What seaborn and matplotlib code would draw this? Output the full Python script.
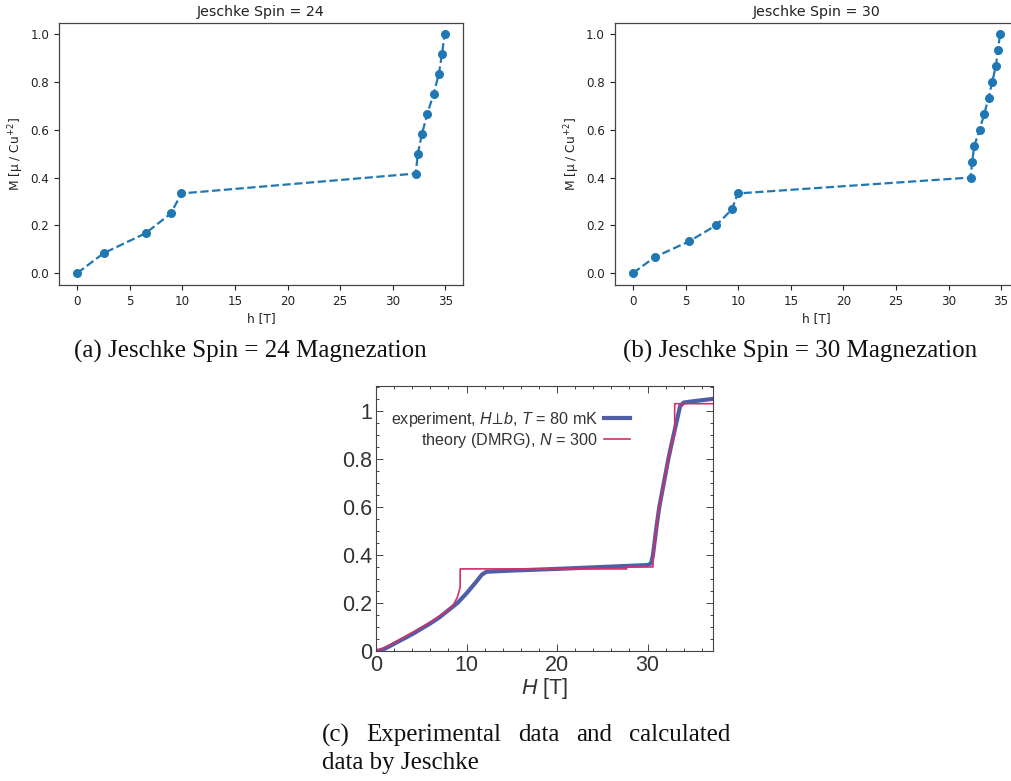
import matplotlib
matplotlib.use("Agg")
import matplotlib.pyplot as plt
import seaborn as sns
import numpy as np
import pandas as pd
from matplotlib.ticker import MultipleLocator, FixedLocator, FixedFormatter
from matplotlib.font_manager import FontProperties

# --- magnetization curves, 24-spin cluster ---
h_24 = [0.0, 2.5, 6.5, 8.9, 9.9, 32.2, 32.4, 32.8, 33.3, 33.9, 34.4, 34.7, 34.95]
m_24 = [0.0, 1/12, 2/12, 3/12, 4/12, 5/12, 6/12, 7/12, 8/12, 9/12, 10/12, 11/12, 1.0]

# --- magnetization curves, 30-spin cluster ---
h_30 = [0.0, 2.05, 5.35, 7.9, 9.4, 9.95, 32.1, 32.25, 32.45, 32.95, 33.4, 33.8,
        34.15, 34.5, 34.7, 34.9]
m_30 = [0.0, 1/15, 2/15, 3/15, 4/15, 5/15, 6/15, 7/15, 8/15, 9/15, 10/15, 11/15,
        12/15, 13/15, 14/15, 1.0]

# --- experiment vs DMRG ---
exp_H = [0.0, 0.5, 1.0, 2.0, 4.0, 6.0, 7.0, 8.0, 9.0, 10.0, 11.0, 11.7, 12.2, 15.0,
         20.0, 25.0, 30.0, 30.4, 30.6, 30.8, 31.0, 31.3, 31.8, 32.3, 32.7, 33.0,
         33.3, 33.6, 34.0, 35.0, 37.2]
exp_M = [0.0, 0.003, 0.01, 0.03, 0.07, 0.115, 0.14, 0.17, 0.2, 0.24, 0.285, 0.318,
         0.33, 0.335, 0.342, 0.35, 0.358, 0.365, 0.40, 0.46, 0.52, 0.6, 0.7, 0.8,
         0.87, 0.92, 0.97, 1.02, 1.035, 1.04, 1.05]

dmrg_H = [0.0, 1.0, 2.0, 3.0, 4.0, 5.0, 6.0, 7.0, 8.0, 8.5, 8.8, 9.0, 9.15, 9.3,
          9.3, 20.0, 27.7, 27.7, 30.6, 30.6, 30.8, 31.0, 31.3, 31.8, 32.3, 32.7,
          33.0, 33.0, 37.2]
dmrg_M = [0.0, 0.015, 0.035, 0.055, 0.077, 0.098, 0.12, 0.145, 0.172, 0.19, 0.21,
          0.225, 0.245, 0.266, 0.342, 0.342, 0.342, 0.35, 0.35, 0.37, 0.45, 0.52,
          0.6, 0.7, 0.8, 0.87, 0.9, 1.03, 1.03]

W, H = 1011, 781
fig = plt.figure(figsize=(W / 100, H / 100), dpi=100)
fig.patch.set_facecolor("white")


def px_axes(left, top, right, bottom):
    return fig.add_axes([left / W, 1 - bottom / H, (right - left) / W, (bottom - top) / H])


def spin_panel(ax, h, m, title):
    df = pd.DataFrame({"h": h, "M": m})
    sns.lineplot(data=df, x="h", y="M", ax=ax, color="#1f77b4", marker="o",
                 markersize=6.5, markeredgewidth=0, linestyle="--", linewidth=1.6,
                 sort=False, estimator=None)
    ax.set_xticks(np.arange(0, 36, 5))
    ax.set_yticks(np.arange(0, 1.01, 0.2))
    ax.yaxis.set_major_formatter(matplotlib.ticker.FormatStrFormatter("%.1f"))
    ax.set_xlim(-1.75, 36.7)
    ax.set_ylim(-0.05, 1.047)
    ax.set_title(title, fontsize=10.2, color="#222222", pad=5)
    ax.set_xlabel("h [T]", fontsize=8.8, color="#222222", labelpad=3)
    ax.set_ylabel("M [μ / Cu$^{+2}$]", fontsize=8.8, color="#222222", labelpad=3,
                  math_fontfamily="dejavusans")
    ax.tick_params(labelsize=8.6, colors="#222222", length=3.5, width=0.8)
    for s in ax.spines.values():
        s.set_color("#444444")
        s.set_linewidth(0.9)


ax_a = px_axes(59, 23, 463, 285)
spin_panel(ax_a, h_24, m_24, "Jeschke Spin = 24")

ax_b = px_axes(614.7, 23, 1019, 285)
spin_panel(ax_b, h_30, m_30, "Jeschke Spin = 30")

# --- experiment / theory comparison panel ---
plt.rcParams["mathtext.fontset"] = "custom"
plt.rcParams["mathtext.it"] = "Liberation Sans:italic"
plt.rcParams["mathtext.rm"] = "Liberation Sans"
plt.rcParams["mathtext.sf"] = "Liberation Sans"
ax_c = px_axes(376, 385.7, 712.7, 651)
sans = ["Liberation Sans", "DejaVu Sans"]

df_exp = pd.DataFrame({"H": exp_H, "M": exp_M})
df_th = pd.DataFrame({"H": dmrg_H, "M": dmrg_M})
sns.lineplot(data=df_exp, x="H", y="M", ax=ax_c, color="#3c4c9e", linewidth=3.0,
             alpha=0.9, sort=False, estimator=None,
             label=r"experiment, $H\!\perp\! b$, $T$ = 80 mK")
sns.lineplot(data=df_th, x="H", y="M", ax=ax_c, color="#d0306a", linewidth=1.2,
             sort=False, estimator=None, label="theory (DMRG), $N$ = 300")
ax_c.set_xlim(0, 37.2)
ax_c.set_ylim(0, 1.105)
ax_c.xaxis.set_major_locator(FixedLocator([0, 10, 20, 30]))
ax_c.xaxis.set_minor_locator(MultipleLocator(2))
ax_c.yaxis.set_major_locator(FixedLocator([0, 0.2, 0.4, 0.6, 0.8, 1.0]))
ax_c.yaxis.set_major_formatter(FixedFormatter(["0", "0.2", "0.4", "0.6", "0.8", "1"]))
ax_c.yaxis.set_minor_locator(MultipleLocator(0.05))
ax_c.tick_params(which="both", direction="in", top=True, right=True,
                 colors="#444444", width=0.7)
ax_c.tick_params(which="major", length=5, labelsize=15.5, labelcolor="#333333", pad=3)
ax_c.tick_params(which="minor", length=2.5)
for lab in ax_c.get_xticklabels() + ax_c.get_yticklabels():
    lab.set_family(sans)
ax_c.set_xlabel("$H$ [T]", fontsize=15.5, color="#333333", family=sans, labelpad=0)
ax_c.set_ylabel("")
for s in ax_c.spines.values():
    s.set_color("#444444")
    s.set_linewidth(0.8)
leg = ax_c.legend(loc="upper left", bbox_to_anchor=(0.015, 0.945), frameon=False,
                  markerfirst=False, handlelength=1.6, handletextpad=0.4,
                  labelspacing=0.12, borderaxespad=0.2,
                  prop=FontProperties(family=sans, size=11.6))
for t in leg.get_texts():
    t.set_color("#333333")

# --- captions ---
serif = ["Liberation Serif", "DejaVu Serif"]
cap_size = 18
fig.text(250 / W, 1 - 351 / H, "(a) Jeschke Spin = 24 Magnezation", ha="center",
         va="center", fontsize=cap_size, family=serif, color="#111111")
fig.text(800 / W, 1 - 351 / H, "(b) Jeschke Spin = 30 Magnezation", ha="center",
         va="center", fontsize=cap_size, family=serif, color="#111111")

# justified first line of caption (c)
words = ["(c)", "Experimental", "data", "and", "calculated"]
x0, x1 = 322, 730
renderer = fig.canvas.get_renderer()
objs = [fig.text(0, 1 - 735 / H, w, ha="left", va="center", fontsize=cap_size,
                 family=serif, color="#111111") for w in words]
widths = [o.get_window_extent(renderer).width for o in objs]
gap = (x1 - x0 - sum(widths)) / (len(words) - 1)
x = x0
for o, wd in zip(objs, widths):
    o.set_x(x / W)
    x += wd + gap
fig.text(x0 / W, 1 - 763 / H, "data by Jeschke", ha="left", va="center",
         fontsize=cap_size, family=serif, color="#111111")

fig.savefig("out.png", dpi=100, facecolor="white")
